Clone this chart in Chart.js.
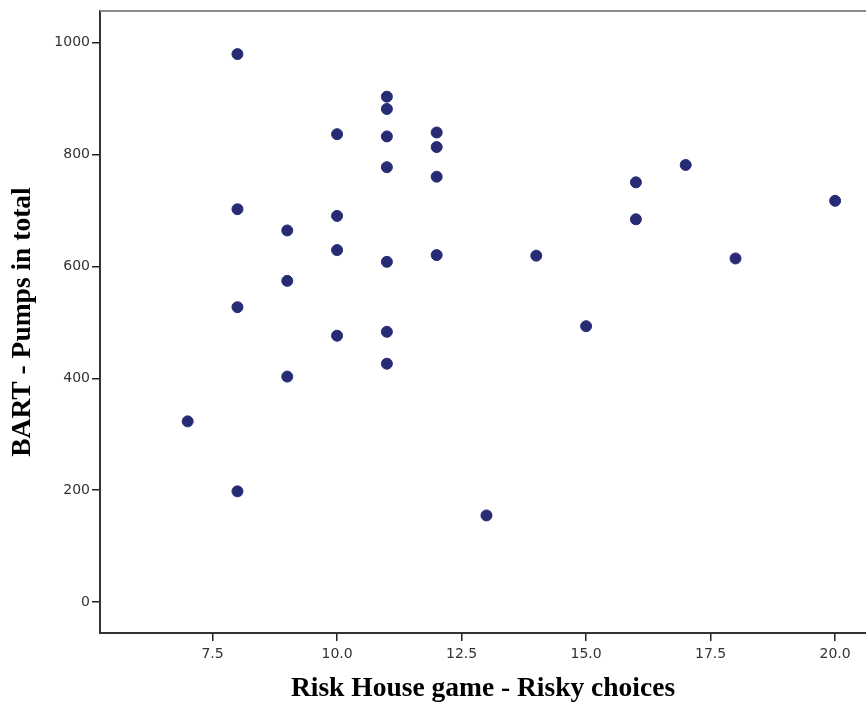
<!DOCTYPE html>
<html>
<head>
<meta charset="utf-8">
<script src="https://cdn.jsdelivr.net/npm/chart.js@4/dist/chart.umd.min.js"></script>
<style>
  html, body { margin: 0; padding: 0; background: #fff; }
  #wrap { width: 866px; height: 702px; position: relative; }
</style>
</head>
<body>
<div id="wrap"><canvas id="scatter"></canvas></div>
<script>
// Risky choices in the Risk House game vs total BART pumps
const riskyChoices = [7, 8, 8, 8, 8, 9, 9, 9, 10, 10, 10, 10, 11, 11, 11, 11, 11, 11, 11,
                      12, 12, 12, 12, 13, 14, 15, 16, 16, 17, 18, 20]
const pumpsTotal = [323, 979, 702, 527, 198, 664, 574, 403, 836, 690, 629, 476, 903, 881, 832, 777, 608, 483, 426,
                    839, 813, 760, 620, 155, 619, 493, 750, 684, 781, 614, 717]
const xTicks = [7.5, 10.0, 12.5, 15.0, 17.5, 20.0]
const yTicks = [0, 200, 400, 600, 800, 1000]
const xTitle = 'Risk House game - Risky choices'
const yTitle = 'BART - Pumps in total'

const points = riskyChoices.map((x, i) => ({ x: x, y: pumpsTotal[i] }))

// grey frame line across the top of the plot
const topLine = {
    id: 'topLine',
    afterDraw(chart) {
        const ctx = chart.ctx
        const a = chart.chartArea
        ctx.save()
        ctx.strokeStyle = '#8a8a8a'
        ctx.lineWidth = 2
        ctx.beginPath()
        ctx.moveTo(a.left, a.top)
        ctx.lineTo(a.right + 2, a.top)
        ctx.stroke()
        ctx.restore()
    }
}

const tickFont = { family: 'DejaVu Sans', size: 14 }
const titleFont = { family: 'Liberation Serif', size: 27.5, weight: 'bold' }

new Chart(document.getElementById('scatter'), {
    type: 'scatter',
    data: {
        datasets: [{
            data: points,
            backgroundColor: '#272b74',
            borderColor: '#272b74',
            pointRadius: 5.5,
            pointHoverRadius: 5.5,
        }]
    },
    options: {
        responsive: true,
        maintainAspectRatio: false,
        animation: false,
        layout: { autoPadding: false, padding: { top: 11, right: 0, left: 0, bottom: 0 } },
        plugins: { legend: { display: false }, tooltip: { enabled: false } },
        scales: {
            x: {
                type: 'linear',
                min: 5.24,
                max: 20.62,
                afterBuildTicks: (axis) => { axis.ticks = xTicks.map(v => ({ value: v })) },
                afterFit: (axis) => { axis.height = 69 },
                grid: { drawOnChartArea: false, tickLength: 8, color: '#222', lineWidth: 1.5 },
                border: { color: '#333', width: 2 },
                ticks: { color: '#333', font: tickFont, padding: 5, maxRotation: 0,
                         callback: (v) => Number(v).toFixed(1) },
                title: { display: true, text: xTitle, color: '#000', font: titleFont, padding: { top: 0, bottom: -3 } }
            },
            y: {
                type: 'linear',
                min: -55,
                max: 1056,
                afterBuildTicks: (axis) => { axis.ticks = yTicks.map(v => ({ value: v })) },
                afterFit: (axis) => { axis.width = 100 },
                grid: { drawOnChartArea: false, tickLength: 8, color: '#222', lineWidth: 1.5 },
                border: { color: '#333', width: 2 },
                ticks: { color: '#333', font: tickFont, padding: 2, callback: (v) => String(v) },
                title: { display: true, text: yTitle, color: '#000', font: titleFont, padding: { top: 6, bottom: 0 } }
            }
        }
    },
    plugins: [topLine]
})
</script>
</body>
</html>
